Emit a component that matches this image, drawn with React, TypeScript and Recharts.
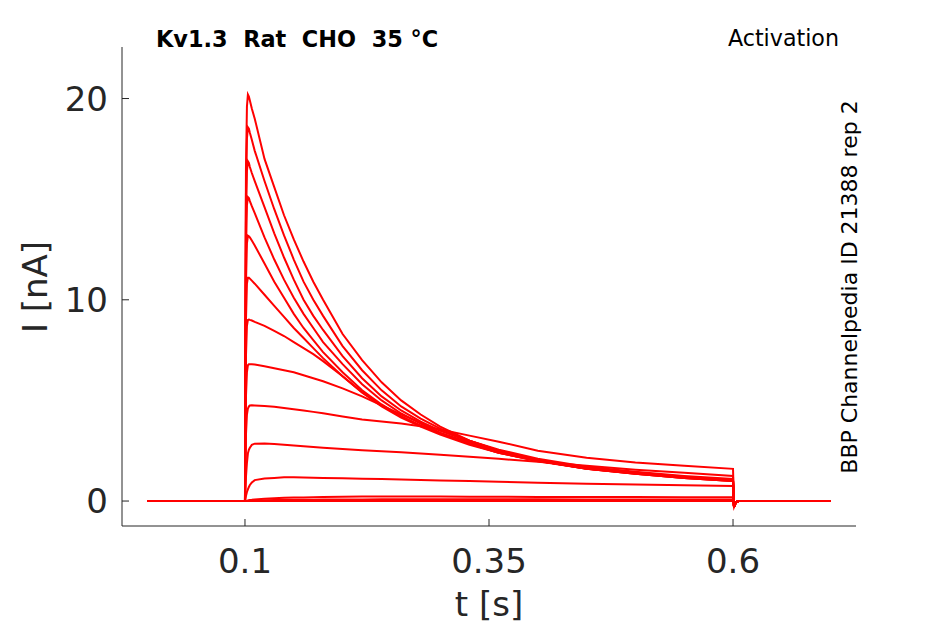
import { LineChart, Line, XAxis, YAxis } from "recharts";

// sample times [s]
const times = [
  0, 0.1, 0.1005, 0.101, 0.102, 0.103, 0.104, 0.105, 0.107, 0.11, 0.12, 0.13,
  0.14, 0.15, 0.16, 0.17, 0.18, 0.2, 0.22, 0.24, 0.26, 0.28, 0.3, 0.33, 0.36,
  0.4, 0.45, 0.5, 0.55, 0.6, 0.601, 0.603, 0.606, 0.7,
];

// current traces [nA], one per voltage step
const trace1 = [0, 0, 10.5, 16.5, 19.6, 20.2, 20.1, 19.9, 19.5, 19.0, 17.0, 15.6, 14.2, 13.0, 11.9, 10.9, 10.0, 8.3, 7.0, 5.9, 5.0, 4.3, 3.7, 3.0, 2.5, 2.0, 1.6, 1.35, 1.15, 1.0, -0.3, -0.05, 0, 0];
const trace2 = [0, 0, 9.5, 15.2, 18.0, 18.57, 18.5, 18.3, 17.95, 17.4, 15.9, 14.5, 13.2, 12.0, 10.9, 10.0, 9.2, 7.7, 6.5, 5.5, 4.7, 4.1, 3.6, 3.0, 2.5, 2.05, 1.65, 1.4, 1.2, 1.05, -0.3, -0.05, 0, 0];
const trace3 = [0, 0, 8.5, 13.8, 16.4, 16.88, 16.8, 16.6, 16.3, 15.9, 14.6, 13.3, 12.1, 11.0, 10.0, 9.2, 8.5, 7.2, 6.1, 5.2, 4.5, 3.95, 3.5, 2.95, 2.5, 2.05, 1.65, 1.4, 1.2, 1.05, -0.3, -0.05, 0, 0];
const trace4 = [0, 0, 7.5, 12.3, 14.7, 15.1, 15.05, 14.9, 14.65, 14.3, 13.1, 12.0, 11.0, 10.1, 9.3, 8.6, 7.9, 6.8, 5.8, 5.0, 4.35, 3.85, 3.4, 2.9, 2.45, 2.0, 1.62, 1.38, 1.18, 1.02, -0.3, -0.05, 0, 0];
const trace5 = [0, 0, 6.5, 10.8, 12.8, 13.18, 13.15, 13.1, 12.95, 12.7, 11.8, 10.9, 10.1, 9.3, 8.6, 8.0, 7.4, 6.4, 5.5, 4.8, 4.2, 3.75, 3.35, 2.85, 2.4, 2.0, 1.6, 1.35, 1.15, 1.0, -0.3, -0.05, 0, 0];
const trace6 = [0, 0, 5.5, 9.0, 10.8, 11.1, 11.1, 11.05, 10.95, 10.8, 10.25, 9.7, 9.15, 8.6, 8.1, 7.6, 7.1, 6.2, 5.4, 4.7, 4.15, 3.7, 3.3, 2.8, 2.4, 1.98, 1.6, 1.35, 1.15, 1.0, -0.3, -0.05, 0, 0];
const trace7 = [0, 0, 4.2, 7.2, 8.7, 9.0, 9.02, 9.0, 8.97, 8.9, 8.7, 8.45, 8.2, 7.9, 7.6, 7.3, 6.95, 6.2, 5.4, 4.75, 4.2, 3.75, 3.35, 2.85, 2.4, 2.0, 1.62, 1.38, 1.18, 1.03, -0.3, -0.05, 0, 0];
const trace8 = [0, 0, 3.0, 5.2, 6.4, 6.75, 6.8, 6.8, 6.8, 6.78, 6.7, 6.6, 6.5, 6.4, 6.25, 6.1, 5.95, 5.6, 5.2, 4.75, 4.3, 3.9, 3.5, 3.0, 2.55, 2.1, 1.7, 1.45, 1.25, 1.1, -0.3, -0.05, 0, 0];
const trace9 = [0, 0, 1.8, 3.3, 4.3, 4.6, 4.7, 4.75, 4.76, 4.75, 4.72, 4.68, 4.62, 4.56, 4.5, 4.43, 4.36, 4.2, 4.05, 3.95, 3.85, 3.72, 3.55, 3.25, 2.95, 2.5, 2.15, 1.92, 1.75, 1.6, -0.3, -0.05, 0, 0];
const trace10 = [0, 0, 0.5, 1.2, 1.9, 2.37, 2.55, 2.65, 2.79, 2.85, 2.86, 2.83, 2.8, 2.76, 2.72, 2.68, 2.65, 2.58, 2.52, 2.47, 2.42, 2.36, 2.3, 2.2, 2.1, 1.95, 1.75, 1.55, 1.4, 1.25, -0.3, -0.05, 0, 0];
const trace11 = [0, 0, 0.1, 0.25, 0.45, 0.58, 0.7, 0.8, 0.92, 1.04, 1.12, 1.15, 1.18, 1.18, 1.17, 1.16, 1.15, 1.13, 1.11, 1.09, 1.07, 1.05, 1.02, 0.99, 0.96, 0.91, 0.86, 0.82, 0.78, 0.75, -0.3, -0.05, 0, 0];
const trace12 = [0, 0, 0, 0.01, 0.02, 0.03, 0.04, 0.05, 0.06, 0.08, 0.12, 0.14, 0.16, 0.17, 0.18, 0.19, 0.2, 0.21, 0.22, 0.22, 0.22, 0.22, 0.22, 0.21, 0.21, 0.2, 0.2, 0.2, 0.19, 0.19, -0.3, -0.05, 0, 0];
const trace13 = [0, 0, 0, 0, 0, 0, 0.01, 0.01, 0.02, 0.02, 0.04, 0.05, 0.06, 0.06, 0.07, 0.07, 0.08, 0.08, 0.08, 0.09, 0.09, 0.09, 0.09, 0.09, 0.09, 0.09, 0.08, 0.08, 0.08, 0.08, -0.3, -0.05, 0, 0];
const trace14 = [0, 0, 0, 0, 0, 0, 0, 0, 0, 0, 0, 0, 0, 0, 0, 0, 0, 0, 0, 0, 0, 0, 0, 0, 0, 0, 0, 0, 0, 0, -0.3, -0.05, 0, 0];

const traces = [
  trace1, trace2, trace3, trace4, trace5, trace6, trace7,
  trace8, trace9, trace10, trace11, trace12, trace13, trace14,
];

const xTicks = [0.1, 0.35, 0.6];
const yTicks = [0, 10, 20];

const rows = times.map((t, i) => {
  const row: Record<string, number> = { t };
  traces.forEach((tr, k) => {
    row[`s${k}`] = tr[i];
  });
  return row;
});

const font = "DejaVu Sans";
const ink = "#262626";

export default function App() {
  return (
    <div style={{ position: "absolute", left: 0, top: 0, width: 945, height: 624, background: "#fff" }}>
      <LineChart
        width={945}
        height={624}
        data={rows}
        margin={{ top: 47, right: 89, bottom: 0, left: 0 }}
        style={{ fontFamily: font }}
      >
        <XAxis
          dataKey="t"
          type="number"
          domain={[-0.026, 0.726]}
          ticks={xTicks}
          tickFormatter={(v: number) => String(v)}
          allowDataOverflow
          height={98}
          tickSize={-7}
          tickMargin={30}
          stroke={ink}
          tick={{ fill: ink, fontSize: 34, fontFamily: font }}
        />
        <YAxis
          type="number"
          domain={[-1.24, 22.56]}
          ticks={yTicks}
          allowDataOverflow
          width={122}
          tickSize={-7}
          tickMargin={21}
          stroke={ink}
          tick={{ fill: ink, fontSize: 34, fontFamily: font }}
        />
        {traces.map((_, k) => (
          <Line
            key={k}
            dataKey={`s${k}`}
            type="linear"
            stroke="#ff0000"
            strokeWidth={2}
            dot={false}
            activeDot={false}
            isAnimationActive={false}
          />
        ))}
      </LineChart>
      <svg
        width={945}
        height={624}
        style={{ position: "absolute", left: 0, top: 0, pointerEvents: "none", fontFamily: font }}
      >
        <text x={156} y={47} fontSize={22.4} fontWeight="bold" fill="#000" style={{ whiteSpace: "pre" }}>
          {"Kv1.3  Rat  CHO  35 °C"}
        </text>
        <text x={839} y={46} fontSize={22.2} textAnchor="end" fill="#000">
          Activation
        </text>
        <text
          transform="translate(857,287) rotate(-90)"
          fontSize={22}
          textAnchor="middle"
          fill="#000"
        >
          BBP Channelpedia ID 21388 rep 2
        </text>
        <text x={489} y={616} fontSize={34} textAnchor="middle" fill={ink}>
          t [s]
        </text>
        <text transform="translate(47,287) rotate(-90)" fontSize={34} textAnchor="middle" fill={ink}>
          I [nA]
        </text>
      </svg>
    </div>
  );
}
